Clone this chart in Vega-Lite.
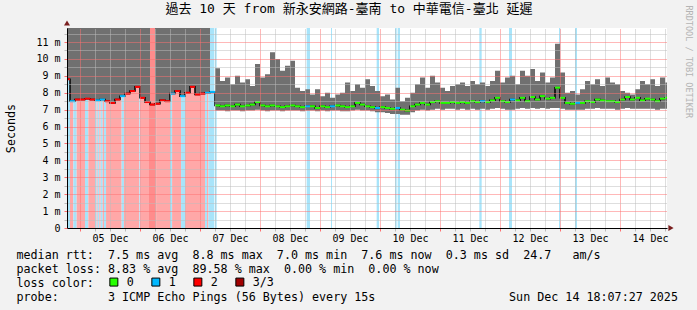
{
  "$schema": "https://vega.github.io/schema/vega-lite/v6.json",
  "width": 600,
  "height": 200,
  "autosize": {"type": "none"},
  "padding": {"left": 67, "top": 28, "right": 30, "bottom": 82},
  "background": "#f2f2f2",
  "config": {"view": {"fill": "#ffffff", "stroke": null}},
  "title": {
    "text": "過去 10 天 from 新永安網路-臺南 to 中華電信-臺北 延遲",
    "font": "DejaVu Sans Mono, Noto Sans CJK TC",
    "fontSize": 13,
    "fontWeight": "normal",
    "color": "#000000",
    "anchor": "middle",
    "frame": "group",
    "dx": -18,
    "dy": 25,
    "offset": 4,
    "baseline": "alphabetic"
  },
  "datasets": {
    "bands": [
      {"s": "2025-12-04T18:00Z", "e": "2025-12-04T20:00Z", "c": "1"},
      {"s": "2025-12-04T20:00Z", "e": "2025-12-04T21:20Z", "c": "2"},
      {"s": "2025-12-04T21:20Z", "e": "2025-12-04T22:40Z", "c": "1"},
      {"s": "2025-12-04T22:40Z", "e": "2025-12-05T02:00Z", "c": "2"},
      {"s": "2025-12-05T02:00Z", "e": "2025-12-05T03:20Z", "c": "1"},
      {"s": "2025-12-05T03:20Z", "e": "2025-12-05T06:00Z", "c": "2"},
      {"s": "2025-12-05T06:00Z", "e": "2025-12-05T06:40Z", "c": "1"},
      {"s": "2025-12-05T06:40Z", "e": "2025-12-05T07:05Z", "c": "2"},
      {"s": "2025-12-05T07:05Z", "e": "2025-12-05T07:45Z", "c": "1"},
      {"s": "2025-12-05T07:45Z", "e": "2025-12-05T08:15Z", "c": "2"},
      {"s": "2025-12-05T08:15Z", "e": "2025-12-05T09:05Z", "c": "1"},
      {"s": "2025-12-05T09:05Z", "e": "2025-12-05T09:35Z", "c": "2"},
      {"s": "2025-12-05T09:35Z", "e": "2025-12-05T10:25Z", "c": "1"},
      {"s": "2025-12-05T10:25Z", "e": "2025-12-05T16:40Z", "c": "2"},
      {"s": "2025-12-05T16:40Z", "e": "2025-12-05T17:35Z", "c": "1"},
      {"s": "2025-12-05T17:35Z", "e": "2025-12-05T23:45Z", "c": "2"},
      {"s": "2025-12-05T23:45Z", "e": "2025-12-06T00:15Z", "c": "1"},
      {"s": "2025-12-06T00:15Z", "e": "2025-12-06T03:20Z", "c": "2"},
      {"s": "2025-12-06T03:20Z", "e": "2025-12-06T06:40Z", "c": "3"},
      {"s": "2025-12-06T06:40Z", "e": "2025-12-06T12:00Z", "c": "2"},
      {"s": "2025-12-06T12:00Z", "e": "2025-12-06T12:50Z", "c": "1"},
      {"s": "2025-12-06T12:50Z", "e": "2025-12-06T16:25Z", "c": "2"},
      {"s": "2025-12-06T16:25Z", "e": "2025-12-06T18:00Z", "c": "1"},
      {"s": "2025-12-06T18:00Z", "e": "2025-12-07T02:00Z", "c": "2"},
      {"s": "2025-12-07T02:00Z", "e": "2025-12-07T02:50Z", "c": "1"},
      {"s": "2025-12-07T02:50Z", "e": "2025-12-07T03:20Z", "c": "2"},
      {"s": "2025-12-07T03:20Z", "e": "2025-12-07T05:45Z", "c": "1"},
      {"s": "2025-12-07T06:00Z", "e": "2025-12-07T06:40Z", "c": "1"},
      {"s": "2025-12-08T18:40Z", "e": "2025-12-08T20:00Z", "c": "1"},
      {"s": "2025-12-09T04:24Z", "e": "2025-12-09T04:48Z", "c": "1"},
      {"s": "2025-12-09T22:40Z", "e": "2025-12-09T23:36Z", "c": "1"},
      {"s": "2025-12-10T06:00Z", "e": "2025-12-10T06:40Z", "c": "1"},
      {"s": "2025-12-10T07:04Z", "e": "2025-12-10T08:00Z", "c": "1"},
      {"s": "2025-12-11T15:44Z", "e": "2025-12-11T16:40Z", "c": "1"},
      {"s": "2025-12-12T03:36Z", "e": "2025-12-12T04:48Z", "c": "1"},
      {"s": "2025-12-12T23:36Z", "e": "2025-12-13T00:08Z", "c": "1"},
      {"s": "2025-12-13T06:00Z", "e": "2025-12-13T06:48Z", "c": "1"}
    ],
    "rows": [
      {"t": "2025-12-04T18:00Z", "lo": 8.8, "hi": 13, "m": 8.8, "l": "2"},
      {"t": "2025-12-04T20:00Z", "lo": 7.5, "hi": 13, "m": 7.5, "l": "1"},
      {"t": "2025-12-04T22:00Z", "lo": 7.6, "hi": 13, "m": 7.6, "l": "2"},
      {"t": "2025-12-05T00:00Z", "lo": 7.6, "hi": 13, "m": 7.6, "l": "2"},
      {"t": "2025-12-05T02:00Z", "lo": 7.65, "hi": 13, "m": 7.65, "l": "2"},
      {"t": "2025-12-05T04:00Z", "lo": 7.6, "hi": 13, "m": 7.6, "l": "2"},
      {"t": "2025-12-05T06:00Z", "lo": 7.55, "hi": 13, "m": 7.55, "l": "1"},
      {"t": "2025-12-05T08:00Z", "lo": 7.6, "hi": 13, "m": 7.6, "l": "1"},
      {"t": "2025-12-05T10:00Z", "lo": 7.5, "hi": 13, "m": 7.5, "l": "2"},
      {"t": "2025-12-05T12:00Z", "lo": 7.4, "hi": 13, "m": 7.4, "l": "2"},
      {"t": "2025-12-05T14:00Z", "lo": 7.6, "hi": 13, "m": 7.6, "l": "2"},
      {"t": "2025-12-05T16:00Z", "lo": 7.8, "hi": 13, "m": 7.8, "l": "1"},
      {"t": "2025-12-05T18:00Z", "lo": 7.95, "hi": 13, "m": 7.95, "l": "2"},
      {"t": "2025-12-05T20:00Z", "lo": 8.1, "hi": 13, "m": 8.1, "l": "2"},
      {"t": "2025-12-05T22:00Z", "lo": 8.35, "hi": 13, "m": 8.35, "l": "2"},
      {"t": "2025-12-06T00:00Z", "lo": 7.7, "hi": 13, "m": 7.7, "l": "2"},
      {"t": "2025-12-06T02:00Z", "lo": 7.45, "hi": 13, "m": 7.45, "l": "2"},
      {"t": "2025-12-06T04:00Z", "lo": 7.3, "hi": 7.3, "m": 7.3, "l": "2"},
      {"t": "2025-12-06T06:00Z", "lo": 7.35, "hi": 13, "m": 7.35, "l": "2"},
      {"t": "2025-12-06T08:00Z", "lo": 7.55, "hi": 13, "m": 7.55, "l": "2"},
      {"t": "2025-12-06T10:00Z", "lo": 7.5, "hi": 13, "m": 7.5, "l": "2"},
      {"t": "2025-12-06T12:00Z", "lo": 7.95, "hi": 13, "m": 7.95, "l": "1"},
      {"t": "2025-12-06T14:00Z", "lo": 8.1, "hi": 13, "m": 8.1, "l": "2"},
      {"t": "2025-12-06T16:00Z", "lo": 7.8, "hi": 13, "m": 7.8, "l": "1"},
      {"t": "2025-12-06T18:00Z", "lo": 8.0, "hi": 13, "m": 8.0, "l": "2"},
      {"t": "2025-12-06T20:00Z", "lo": 8.35, "hi": 13, "m": 8.35, "l": "2"},
      {"t": "2025-12-06T22:00Z", "lo": 7.9, "hi": 13, "m": 7.9, "l": "2"},
      {"t": "2025-12-07T00:00Z", "lo": 7.95, "hi": 13, "m": 7.95, "l": "2"},
      {"t": "2025-12-07T02:00Z", "lo": 8.0, "hi": 13, "m": 8.0, "l": "1"},
      {"t": "2025-12-07T04:00Z", "lo": 8.05, "hi": 8.05, "m": 8.05, "l": "1"},
      {"t": "2025-12-07T06:00Z", "lo": 6.95, "hi": 9.45, "m": 7.25, "l": "0"},
      {"t": "2025-12-07T08:00Z", "lo": 6.95, "hi": 8.7, "m": 7.2, "l": "0"},
      {"t": "2025-12-07T10:00Z", "lo": 6.9, "hi": 8.9, "m": 7.25, "l": "0"},
      {"t": "2025-12-07T12:00Z", "lo": 6.95, "hi": 8.5, "m": 7.2, "l": "0"},
      {"t": "2025-12-07T14:00Z", "lo": 6.95, "hi": 9.0, "m": 7.3, "l": "0"},
      {"t": "2025-12-07T16:00Z", "lo": 6.9, "hi": 8.6, "m": 7.2, "l": "0"},
      {"t": "2025-12-07T18:00Z", "lo": 6.95, "hi": 8.8, "m": 7.25, "l": "0"},
      {"t": "2025-12-07T20:00Z", "lo": 6.95, "hi": 8.4, "m": 7.3, "l": "0"},
      {"t": "2025-12-07T22:00Z", "lo": 7.0, "hi": 9.7, "m": 7.45, "l": "0"},
      {"t": "2025-12-08T00:00Z", "lo": 6.95, "hi": 8.9, "m": 7.25, "l": "0"},
      {"t": "2025-12-08T02:00Z", "lo": 6.9, "hi": 9.1, "m": 7.2, "l": "0"},
      {"t": "2025-12-08T04:00Z", "lo": 6.95, "hi": 10.4, "m": 7.25, "l": "0"},
      {"t": "2025-12-08T06:00Z", "lo": 6.95, "hi": 10.0, "m": 7.2, "l": "0"},
      {"t": "2025-12-08T08:00Z", "lo": 6.9, "hi": 9.3, "m": 7.15, "l": "0"},
      {"t": "2025-12-08T10:00Z", "lo": 6.95, "hi": 9.6, "m": 7.2, "l": "0"},
      {"t": "2025-12-08T12:00Z", "lo": 6.95, "hi": 9.9, "m": 7.25, "l": "0"},
      {"t": "2025-12-08T14:00Z", "lo": 6.95, "hi": 8.3, "m": 7.2, "l": "0"},
      {"t": "2025-12-08T16:00Z", "lo": 6.9, "hi": 8.1, "m": 7.15, "l": "0"},
      {"t": "2025-12-08T18:00Z", "lo": 6.95, "hi": 8.2, "m": 7.2, "l": "1"},
      {"t": "2025-12-08T20:00Z", "lo": 6.95, "hi": 7.9, "m": 7.2, "l": "0"},
      {"t": "2025-12-08T22:00Z", "lo": 6.9, "hi": 8.2, "m": 7.1, "l": "0"},
      {"t": "2025-12-09T00:00Z", "lo": 6.95, "hi": 7.8, "m": 7.2, "l": "0"},
      {"t": "2025-12-09T02:00Z", "lo": 6.9, "hi": 8.0, "m": 7.15, "l": "0"},
      {"t": "2025-12-09T04:00Z", "lo": 6.95, "hi": 7.7, "m": 7.2, "l": "1"},
      {"t": "2025-12-09T06:00Z", "lo": 6.95, "hi": 7.9, "m": 7.25, "l": "0"},
      {"t": "2025-12-09T08:00Z", "lo": 6.9, "hi": 8.0, "m": 7.2, "l": "0"},
      {"t": "2025-12-09T10:00Z", "lo": 6.9, "hi": 8.6, "m": 7.15, "l": "0"},
      {"t": "2025-12-09T12:00Z", "lo": 6.95, "hi": 8.1, "m": 7.2, "l": "0"},
      {"t": "2025-12-09T14:00Z", "lo": 7.0, "hi": 8.5, "m": 7.4, "l": "0"},
      {"t": "2025-12-09T16:00Z", "lo": 6.95, "hi": 8.3, "m": 7.3, "l": "0"},
      {"t": "2025-12-09T18:00Z", "lo": 6.95, "hi": 8.8, "m": 7.2, "l": "0"},
      {"t": "2025-12-09T20:00Z", "lo": 6.9, "hi": 8.4, "m": 7.15, "l": "0"},
      {"t": "2025-12-09T22:00Z", "lo": 6.85, "hi": 8.1, "m": 7.1, "l": "1"},
      {"t": "2025-12-10T00:00Z", "lo": 6.85, "hi": 7.8, "m": 7.15, "l": "0"},
      {"t": "2025-12-10T02:00Z", "lo": 6.8, "hi": 7.9, "m": 7.1, "l": "0"},
      {"t": "2025-12-10T04:00Z", "lo": 6.75, "hi": 7.6, "m": 7.05, "l": "0"},
      {"t": "2025-12-10T06:00Z", "lo": 6.75, "hi": 8.3, "m": 7.1, "l": "1"},
      {"t": "2025-12-10T08:00Z", "lo": 6.7, "hi": 7.5, "m": 7.0, "l": "0"},
      {"t": "2025-12-10T10:00Z", "lo": 6.7, "hi": 7.7, "m": 6.95, "l": "0"},
      {"t": "2025-12-10T12:00Z", "lo": 6.85, "hi": 8.0, "m": 7.2, "l": "0"},
      {"t": "2025-12-10T14:00Z", "lo": 6.95, "hi": 8.5, "m": 7.3, "l": "0"},
      {"t": "2025-12-10T16:00Z", "lo": 7.0, "hi": 8.9, "m": 7.4, "l": "0"},
      {"t": "2025-12-10T18:00Z", "lo": 6.95, "hi": 8.3, "m": 7.3, "l": "0"},
      {"t": "2025-12-10T20:00Z", "lo": 7.0, "hi": 9.0, "m": 7.45, "l": "0"},
      {"t": "2025-12-10T22:00Z", "lo": 7.05, "hi": 8.6, "m": 7.5, "l": "0"},
      {"t": "2025-12-11T00:00Z", "lo": 7.0, "hi": 8.3, "m": 7.4, "l": "0"},
      {"t": "2025-12-11T02:00Z", "lo": 7.05, "hi": 8.1, "m": 7.4, "l": "0"},
      {"t": "2025-12-11T04:00Z", "lo": 7.05, "hi": 8.4, "m": 7.45, "l": "0"},
      {"t": "2025-12-11T06:00Z", "lo": 7.0, "hi": 8.5, "m": 7.4, "l": "0"},
      {"t": "2025-12-11T08:00Z", "lo": 7.05, "hi": 8.6, "m": 7.45, "l": "0"},
      {"t": "2025-12-11T10:00Z", "lo": 7.0, "hi": 8.4, "m": 7.4, "l": "0"},
      {"t": "2025-12-11T12:00Z", "lo": 7.05, "hi": 8.7, "m": 7.5, "l": "0"},
      {"t": "2025-12-11T14:00Z", "lo": 7.0, "hi": 8.5, "m": 7.45, "l": "0"},
      {"t": "2025-12-11T16:00Z", "lo": 7.05, "hi": 8.6, "m": 7.5, "l": "1"},
      {"t": "2025-12-11T18:00Z", "lo": 7.0, "hi": 8.4, "m": 7.45, "l": "0"},
      {"t": "2025-12-11T20:00Z", "lo": 7.05, "hi": 8.7, "m": 7.55, "l": "0"},
      {"t": "2025-12-11T22:00Z", "lo": 7.1, "hi": 9.3, "m": 7.7, "l": "0"},
      {"t": "2025-12-12T00:00Z", "lo": 7.05, "hi": 8.6, "m": 7.5, "l": "0"},
      {"t": "2025-12-12T02:00Z", "lo": 7.0, "hi": 8.9, "m": 7.45, "l": "0"},
      {"t": "2025-12-12T04:00Z", "lo": 7.0, "hi": 9.0, "m": 7.6, "l": "1"},
      {"t": "2025-12-12T06:00Z", "lo": 7.05, "hi": 8.5, "m": 7.55, "l": "0"},
      {"t": "2025-12-12T08:00Z", "lo": 7.1, "hi": 9.3, "m": 7.7, "l": "0"},
      {"t": "2025-12-12T10:00Z", "lo": 7.05, "hi": 9.0, "m": 7.5, "l": "0"},
      {"t": "2025-12-12T12:00Z", "lo": 7.1, "hi": 9.4, "m": 7.75, "l": "0"},
      {"t": "2025-12-12T14:00Z", "lo": 7.05, "hi": 8.7, "m": 7.6, "l": "0"},
      {"t": "2025-12-12T16:00Z", "lo": 7.1, "hi": 9.2, "m": 7.8, "l": "0"},
      {"t": "2025-12-12T18:00Z", "lo": 7.05, "hi": 8.6, "m": 7.65, "l": "0"},
      {"t": "2025-12-12T20:00Z", "lo": 7.1, "hi": 8.9, "m": 7.7, "l": "0"},
      {"t": "2025-12-12T22:00Z", "lo": 7.1, "hi": 10.9, "m": 8.3, "l": "0"},
      {"t": "2025-12-13T00:00Z", "lo": 7.05, "hi": 9.2, "m": 7.7, "l": "0"},
      {"t": "2025-12-13T02:00Z", "lo": 7.0, "hi": 8.0, "m": 7.4, "l": "0"},
      {"t": "2025-12-13T04:00Z", "lo": 7.0, "hi": 8.1, "m": 7.35, "l": "0"},
      {"t": "2025-12-13T06:00Z", "lo": 7.0, "hi": 7.9, "m": 7.4, "l": "1"},
      {"t": "2025-12-13T08:00Z", "lo": 7.0, "hi": 8.2, "m": 7.4, "l": "0"},
      {"t": "2025-12-13T10:00Z", "lo": 7.05, "hi": 8.7, "m": 7.5, "l": "0"},
      {"t": "2025-12-13T12:00Z", "lo": 7.05, "hi": 8.5, "m": 7.45, "l": "0"},
      {"t": "2025-12-13T14:00Z", "lo": 7.1, "hi": 8.8, "m": 7.6, "l": "0"},
      {"t": "2025-12-13T16:00Z", "lo": 7.05, "hi": 8.4, "m": 7.55, "l": "0"},
      {"t": "2025-12-13T18:00Z", "lo": 7.05, "hi": 8.9, "m": 7.5, "l": "0"},
      {"t": "2025-12-13T20:00Z", "lo": 7.05, "hi": 8.6, "m": 7.5, "l": "0"},
      {"t": "2025-12-13T22:00Z", "lo": 7.0, "hi": 8.5, "m": 7.45, "l": "0"},
      {"t": "2025-12-14T00:00Z", "lo": 7.05, "hi": 8.1, "m": 7.6, "l": "0"},
      {"t": "2025-12-14T02:00Z", "lo": 7.1, "hi": 8.0, "m": 7.75, "l": "0"},
      {"t": "2025-12-14T04:00Z", "lo": 7.05, "hi": 7.9, "m": 7.6, "l": "0"},
      {"t": "2025-12-14T06:00Z", "lo": 7.05, "hi": 8.2, "m": 7.7, "l": "0"},
      {"t": "2025-12-14T08:00Z", "lo": 7.05, "hi": 8.7, "m": 7.55, "l": "0"},
      {"t": "2025-12-14T10:00Z", "lo": 7.05, "hi": 8.5, "m": 7.65, "l": "0"},
      {"t": "2025-12-14T12:00Z", "lo": 7.05, "hi": 8.8, "m": 7.6, "l": "0"},
      {"t": "2025-12-14T14:00Z", "lo": 7.0, "hi": 8.4, "m": 7.5, "l": "0"},
      {"t": "2025-12-14T16:00Z", "lo": 7.05, "hi": 8.9, "m": 7.65, "l": "0"},
      {"t": "2025-12-14T18:00Z", "lo": 7.05, "hi": 8.6, "m": 7.7, "l": "0"},
      {"t": "2025-12-14T20:00Z", "lo": 7.05, "hi": 8.6, "m": 7.7, "l": "0"}
    ]
  },
  "resolve": {"axis": {"x": "independent", "y": "independent"}},
  "layer": [
    {
      "data": {"name": "bands"},
      "mark": {"type": "rect", "clip": true},
      "encoding": {
        "x": {
          "field": "s",
          "type": "temporal",
          "scale": {"type": "utc", "domain": [1764874080000, 1765738080000]},
          "axis": {
            "orient": "bottom",
            "title": [
              "median rtt:\u00a0\u00a07.5 ms avg\u00a0\u00a08.8 ms max\u00a0\u00a07.0 ms min\u00a0\u00a07.6 ms now\u00a0\u00a00.3 ms sd\u00a0\u00a024.7\u00a0\u00a0\u00a0am/s",
              "packet loss: 8.83 % avg\u00a0\u00a089.58 % max\u00a0\u00a00.00 % min\u00a0\u00a00.00 % now",
              "loss color:",
              "probe:\u00a0\u00a0\u00a0\u00a0\u00a0\u00a0\u00a03 ICMP Echo Pings (56 Bytes) every 15s\u00a0\u00a0\u00a0\u00a0\u00a0\u00a0\u00a0\u00a0\u00a0\u00a0\u00a0\u00a0\u00a0\u00a0\u00a0\u00a0\u00a0\u00a0\u00a0Sun Dec 14 18:07:27 2025"
            ],
            "titleFont": "DejaVu Sans Mono",
            "titleFontSize": 11.7,
            "titleFontWeight": "normal",
            "titleColor": "#000000",
            "titleAnchor": "start",
            "titleAlign": "left",
            "titleBaseline": "alphabetic",
            "titleX": -51,
            "titleY": 30,
            "titleLineHeight": 14,
            "values": [1764871200000, 1764892800000, 1764914400000, 1764936000000, 1764957600000, 1764979200000, 1765000800000, 1765022400000, 1765044000000, 1765065600000, 1765087200000, 1765108800000, 1765130400000, 1765152000000, 1765173600000, 1765195200000, 1765216800000, 1765238400000, 1765260000000, 1765281600000, 1765303200000, 1765324800000, 1765346400000, 1765368000000, 1765389600000, 1765411200000, 1765432800000, 1765454400000, 1765476000000, 1765497600000, 1765519200000, 1765540800000, 1765562400000, 1765584000000, 1765605600000, 1765627200000, 1765648800000, 1765670400000, 1765692000000, 1765713600000, 1765735200000],
            "labels": true,
            "labelExpr": "utchours(datum.value) === 12 ? utcFormat(datum.value, '%d %b') : ''",
            "labelFont": "DejaVu Sans Mono",
            "labelFontSize": 10,
            "labelColor": "#000000",
            "labelOverlap": false,
            "labelFlush": false,
            "labelPadding": 2,
            "grid": true,
            "gridColor": {"condition": {"test": "utchours(datum.value) === 0", "value": "#ff7070"}, "value": "#bcbcbc"},
            "gridDash": [1, 1],
            "gridWidth": 1,
            "tickColor": {"condition": {"test": "utchours(datum.value) === 0", "value": "#ff7070"}, "value": "#bcbcbc"},
            "tickSize": 3,
            "domainColor": "#000000",
            "domainWidth": 1,
            "zindex": 1
          }
        },
        "x2": {"field": "e"},
        "fill": {
          "field": "c",
          "type": "nominal",
          "scale": {"domain": ["1", "2", "3"], "range": ["#a8e4fa", "#ffa8a8", "#ff8c8c"]},
          "legend": null
        }
      }
    },
    {
      "data": {"name": "rows"},
      "mark": {"type": "area", "interpolate": "step-after", "color": "#707070", "opacity": 1, "clip": true},
      "encoding": {
        "x": {"field": "t", "type": "temporal", "axis": null},
        "y": {
          "field": "lo",
          "type": "quantitative",
          "scale": {"domain": [0, 11.83], "nice": false, "zero": true},
          "axis": {
            "orient": "left",
            "values": [0, 0.5, 1, 1.5, 2, 2.5, 3, 3.5, 4, 4.5, 5, 5.5, 6, 6.5, 7, 7.5, 8, 8.5, 9, 9.5, 10, 10.5, 11, 11.5],
            "labelExpr": "datum.value % 1 !== 0 ? '' : (datum.value === 0 ? '0' : datum.value + ' m')",
            "labelFont": "DejaVu Sans Mono",
            "labelFontSize": 10,
            "labelColor": "#000000",
            "labelPadding": 4,
            "labelOverlap": false,
            "tickSize": 3,
            "tickColor": {"condition": {"test": "datum.value % 1 === 0", "value": "#ff7070"}, "value": "#bcbcbc"},
            "grid": true,
            "gridColor": {"condition": {"test": "datum.value % 1 === 0", "value": "#ff7070"}, "value": "#bcbcbc"},
            "gridDash": [1, 1],
            "domainColor": "#000000",
            "title": "Seconds",
            "titleFont": "DejaVu Sans Mono",
            "titleFontSize": 11.7,
            "titleFontWeight": "normal",
            "titleColor": "#000000",
            "titleAngle": -90,
            "titleX": -57,
            "titleY": 100,
            "titleAlign": "center",
            "titleBaseline": "middle",
            "zindex": 1
          }
        },
        "y2": {"field": "hi"}
      }
    },
    {
      "data": {"name": "rows"},
      "mark": {"type": "line", "interpolate": "step-after", "color": "#000000", "strokeWidth": 1.5, "clip": true},
      "encoding": {
        "x": {"field": "t", "type": "temporal", "axis": null},
        "y": {
          "field": "m",
          "type": "quantitative",
          "axis": {
            "orient": "right",
            "title": "RRDTOOL / TOBI OETIKER",
            "titleFont": "DejaVu Sans Mono",
            "titleFontSize": 8.5,
            "titleFontWeight": "normal",
            "titleColor": "#b4b4b4",
            "titleAngle": 90,
            "titleAlign": "left",
            "titleBaseline": "middle",
            "titleX": 21,
            "titleY": -23,
            "labels": false,
            "ticks": false,
            "domain": false,
            "grid": false
          }
        }
      }
    },
    {
      "data": {"name": "rows"},
      "mark": {"type": "tick", "orient": "horizontal", "size": 5, "thickness": 2, "xOffset": 2.5, "opacity": 1, "clip": true},
      "encoding": {
        "x": {"field": "t", "type": "temporal", "axis": null},
        "y": {"field": "m", "type": "quantitative", "axis": null},
        "color": {
          "field": "l",
          "type": "nominal",
          "scale": {"domain": ["0", "1", "2", "3/3"], "range": ["#26ff00", "#00b8ff", "#ff0000", "#a10000"]},
          "legend": {
            "orient": "none",
            "legendX": 41,
            "legendY": 248,
            "direction": "horizontal",
            "title": null,
            "symbolType": "square",
            "symbolSize": 64,
            "symbolStrokeColor": "#000000",
            "symbolStrokeWidth": 1,
            "symbolOpacity": 1,
            "labelFont": "DejaVu Sans Mono",
            "labelFontSize": 11.7,
            "labelColor": "#000000",
            "labelOffset": 7,
            "columnPadding": 15
          }
        }
      }
    },
    {
      "data": {"values": [{}]},
      "mark": {"type": "point", "shape": "triangle-right", "size": 36, "filled": true, "color": "#7a1f1f", "opacity": 1, "xOffset": 4},
      "encoding": {
        "x": {"datum": 1765738080000, "type": "temporal", "axis": null},
        "y": {"datum": 0, "type": "quantitative", "axis": null}
      }
    },
    {
      "data": {"values": [{}]},
      "mark": {"type": "point", "shape": "triangle-up", "size": 36, "filled": true, "color": "#7a1f1f", "opacity": 1, "yOffset": -5},
      "encoding": {
        "x": {"datum": 1764874080000, "type": "temporal", "axis": null},
        "y": {"datum": 11.83, "type": "quantitative", "axis": null}
      }
    }
  ]
}
